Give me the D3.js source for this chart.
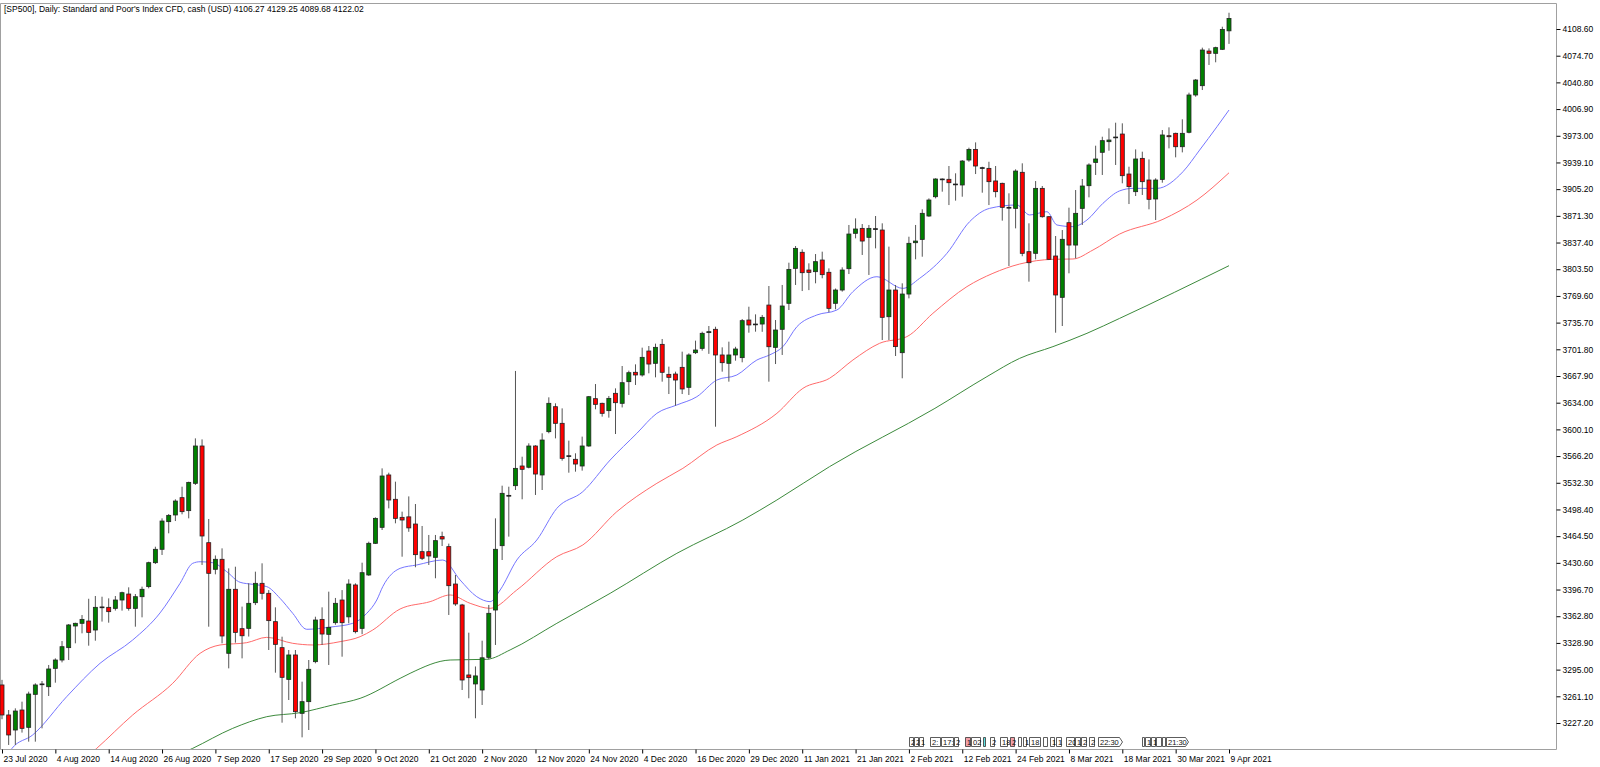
<!DOCTYPE html>
<html>
<head>
<meta charset="utf-8">
<script src="https://cdn.jsdelivr.net/npm/d3@7"></script>
<style>
  html, body { margin: 0; padding: 0; background: #fff; }
  svg { display: block; }
  .axis text { font-family: "Liberation Sans", Arial, sans-serif; font-size: 8.5px; fill: #000; }
  .axis line { stroke: #000; }
</style>
</head>
<body>
<div id="chart"></div>
<script>
var w = 1600,
	h = 767,
	plot_right = 1556,
	plot_top = 3,
	plot_bottom = 749;

var title = "[SP500], Daily:  Standard and Poor's Index CFD, cash (USD)  4106.27 4129.25 4089.68 4122.02";

// daily bars, 23 Jul 2020 .. 9 Apr 2021
var open = [
	3275.5,3237.4,3218.3,3243.7,3221.7,3263.6,3276.3,3273.3,3296.6,3307.2,
	3322.9,3350.4,3353.8,3356.7,3345.3,3374.0,3374.1,3372.8,3383.4,3391.0,
	3372.8,3387.6,3400.4,3430.8,3447.8,3482.9,3491.4,3513.4,3496.9,3531.6,
	3579.0,3456.2,3422.4,3435.1,3315.7,3397.0,3347.0,3347.4,3380.0,3404.6,
	3391.9,3355.9,3322.9,3282.6,3313.6,3239.5,3254.3,3305.1,3358.8,3339.8,
	3354.6,3383.4,3362.0,3402.5,3347.4,3415.2,3455.4,3475.7,3542.2,3511.3,
	3488.4,3489.0,3479.9,3444.8,3444.8,3437.6,3463.9,3451.2,3403.7,3377.1,
	3288.2,3276.8,3269.1,3310.6,3370.7,3452.4,3515.9,3528.6,3553.6,3552.0,
	3579.0,3542.2,3597.2,3628.9,3607.8,3566.3,3562.1,3553.6,3579.0,3639.1,
	3633.2,3623.9,3645.9,3633.2,3660.7,3672.6,3669.2,3699.6,3684.0,3708.1,
	3670.0,3670.4,3678.9,3653.5,3697.5,3703.0,3723.0,3727.2,3694.6,3684.0,
	3694.6,3691.2,3739.0,3733.5,3733.9,3758.0,3704.3,3727.2,3760.2,3804.6,
	3825.0,3802.5,3800.4,3815.2,3799.6,3760.2,3777.1,3804.2,3849.1,3855.4,
	3844.0,3854.6,3853.3,3743.2,3777.1,3697.5,3772.0,3837.2,3841.4,3871.1,
	3895.6,3917.7,3917.7,3911.7,3910.5,3942.2,3955.7,3932.5,3931.6,3915.6,
	3912.6,3882.1,3880.8,3926.6,3825.8,3823.7,3906.2,3870.2,3820.3,3767.8,
	3862.6,3834.2,3880.8,3909.6,3939.2,3952.0,3965.5,3971.0,3975.2,3924.4,
	3902.0,3944.3,3916.8,3892.7,3917.6,3973.1,3976.1,3959.1,3977.4,4024.8,
	4036.6,4080.6,4077.7,4082.8,4106.27
];
var high = [
	3282.0,3243.7,3245.8,3254.3,3267.0,3277.6,3280.5,3300.9,3309.3,3331.3,
	3352.9,3354.6,3364.3,3385.0,3388.5,3387.6,3385.5,3388.5,3394.0,3399.5,
	3391.0,3400.4,3432.1,3451.1,3487.1,3492.6,3511.3,3527.3,3533.7,3588.7,
	3587.4,3486.3,3440.0,3449.0,3423.6,3425.7,3375.0,3404.6,3419.4,3430.0,
	3396.0,3374.1,3336.8,3319.9,3319.9,3279.7,3307.2,3362.2,3374.1,3394.0,
	3386.0,3396.0,3409.7,3404.6,3430.8,3457.5,3488.4,3550.6,3545.1,3533.7,
	3495.6,3515.0,3505.3,3477.4,3466.0,3466.0,3470.2,3455.0,3415.2,3378.5,
	3341.9,3299.0,3331.7,3377.1,3487.1,3528.6,3527.3,3674.3,3565.4,3582.4,
	3580.0,3595.1,3640.8,3633.2,3626.8,3585.8,3569.7,3590.9,3642.5,3657.7,
	3634.0,3642.5,3652.2,3680.6,3674.7,3682.7,3703.9,3706.0,3709.0,3714.9,
	3679.8,3673.4,3698.8,3696.7,3712.8,3724.2,3731.4,3730.5,3704.3,3711.5,
	3705.0,3740.3,3755.9,3746.2,3745.4,3782.2,3739.0,3783.5,3811.8,3833.0,
	3828.7,3811.0,3822.8,3825.8,3804.6,3779.0,3805.9,3859.7,3868.1,3860.9,
	3859.7,3871.1,3861.8,3832.2,3783.5,3785.6,3844.8,3859.7,3879.6,3893.5,
	3919.0,3918.9,3934.6,3925.3,3942.2,3957.9,3964.6,3933.7,3940.0,3934.6,
	3913.4,3899.9,3930.4,3938.0,3861.8,3915.5,3909.2,3871.1,3845.7,3853.3,
	3881.7,3904.1,3918.1,3938.0,3960.4,3971.8,3982.4,3989.6,3988.8,3933.7,
	3955.7,3952.8,3943.0,3919.0,3980.3,3983.7,3976.9,3993.9,4027.7,4045.1,
	4084.9,4084.0,4086.1,4111.5,4129.25
];
var low = [
	3232.0,3199.3,3199.3,3215.0,3203.5,3203.5,3220.4,3261.5,3278.4,3304.2,
	3307.2,3328.4,3341.1,3325.4,3331.7,3356.0,3354.6,3370.0,3369.9,3369.9,
	3349.5,3361.4,3398.2,3429.1,3440.6,3468.1,3483.7,3492.2,3487.1,3529.5,
	3427.9,3349.5,3416.0,3328.4,3296.6,3329.2,3309.3,3337.0,3377.0,3384.0,
	3319.9,3291.1,3227.6,3256.4,3233.1,3209.0,3218.3,3303.0,3326.3,3300.9,
	3352.0,3311.4,3353.8,3341.0,3340.0,3414.0,3454.5,3472.3,3499.8,3480.8,
	3438.4,3470.0,3425.0,3434.2,3427.9,3411.0,3452.0,3364.4,3376.0,3269.1,
	3258.6,3233.2,3250.1,3308.1,3326.3,3434.2,3463.9,3523.1,3511.3,3550.6,
	3516.8,3523.1,3595.1,3588.7,3560.4,3545.1,3546.4,3547.7,3578.0,3625.6,
	3616.3,3615.0,3594.2,3628.0,3643.8,3656.5,3667.1,3671.3,3666.2,3660.7,
	3645.0,3630.2,3645.0,3643.8,3695.8,3700.1,3696.0,3603.5,3673.4,3660.7,
	3687.4,3685.3,3722.9,3724.2,3724.0,3660.7,3683.1,3694.6,3751.7,3783.5,
	3775.8,3777.0,3785.6,3792.0,3748.8,3752.6,3775.0,3797.4,3842.7,3821.6,
	3796.2,3830.0,3713.6,3713.6,3693.3,3665.0,3766.5,3816.1,3819.4,3870.0,
	3893.5,3902.0,3885.0,3890.6,3895.6,3940.0,3924.4,3900.7,3885.0,3894.8,
	3865.2,3807.6,3855.4,3820.0,3787.7,3816.1,3869.0,3815.2,3722.9,3731.4,
	3798.3,3817.3,3859.7,3894.8,3923.2,3923.2,3954.0,3935.9,3912.6,3886.3,
	3896.5,3897.8,3879.6,3866.0,3913.4,3957.0,3945.6,3951.9,3976.1,4022.6,
	4031.1,4062.9,4066.3,4081.9,4089.68
];
var close = [
	3237.4,3212.0,3242.4,3220.4,3264.0,3275.5,3276.8,3295.8,3307.2,3324.1,
	3351.7,3353.8,3358.8,3342.3,3374.1,3374.6,3368.6,3383.4,3392.7,3372.8,
	3387.6,3397.0,3430.8,3447.8,3483.7,3490.9,3509.1,3495.6,3532.8,3579.0,
	3464.7,3417.3,3435.1,3337.7,3397.0,3342.3,3338.0,3379.2,3404.6,3391.9,
	3357.2,3327.1,3285.2,3313.6,3241.6,3254.3,3295.4,3358.0,3340.2,3348.7,
	3379.2,3354.6,3403.7,3343.2,3418.1,3455.4,3487.1,3540.9,3510.4,3487.1,
	3485.0,3475.0,3441.0,3436.4,3439.3,3458.8,3460.9,3401.6,3378.4,3281.8,
	3284.8,3287.0,3310.0,3366.5,3447.8,3518.9,3516.3,3550.6,3549.4,3579.0,
	3543.4,3586.6,3633.2,3607.8,3563.3,3566.6,3556.1,3579.0,3641.6,3631.9,
	3620.5,3639.5,3634.0,3659.4,3672.1,3669.2,3691.6,3683.1,3704.3,3672.6,
	3666.2,3662.8,3651.4,3694.6,3700.9,3722.1,3724.2,3694.6,3684.8,3694.6,
	3702.2,3738.2,3732.7,3733.9,3742.4,3705.1,3726.3,3756.8,3803.3,3830.0,
	3799.1,3799.5,3813.1,3796.6,3753.8,3777.1,3802.5,3848.2,3854.6,3839.3,
	3855.4,3855.0,3742.4,3777.1,3705.2,3772.0,3836.4,3839.3,3874.5,3891.4,
	3918.1,3918.1,3913.4,3911.3,3940.9,3955.7,3934.6,3932.1,3914.7,3902.0,
	3882.1,3881.7,3928.2,3823.7,3811.8,3906.2,3870.2,3816.1,3770.8,3841.5,
	3834.2,3874.5,3909.2,3935.9,3943.5,3966.8,3967.6,3971.4,3922.3,3908.4,
	3943.5,3914.7,3892.3,3916.8,3974.0,3971.8,3959.1,3976.1,4024.8,4043.8,
	4081.9,4077.7,4084.9,4108.1,4122.02
];

// moving averages: [bar, value]
var maBlue = [
	[0,3175],[1.5,3195],[4.6,3212],[9.7,3260.6],[14.7,3303],[19.6,3332.6],[23.7,3367],
	[26.7,3404.6],[28.6,3430],[29.7,3432],[31.6,3430.8],[33.7,3419.4],[35.7,3405.9],
	[37.6,3403.3],[39.7,3400.4],[41.7,3385.5],[43.6,3366.5],[45.7,3346.2],[49.2,3349],
	[52.6,3353.8],[54.7,3366.5],[56.2,3383.4],[57.1,3400.4],[59.7,3423.6],[62.2,3427.9],
	[66.1,3434.2],[68.7,3408.8],[71.2,3387.6],[73.2,3381.3],[74.7,3396.1],[77.2,3434.2],
	[80.2,3459.6],[83.2,3499.8],[87.1,3521],[91.2,3561.2],[95.2,3595.1],[98.2,3620.5],
	[101.2,3631.1],[104.2,3641.6],[107.2,3662.8],[110.2,3669.2],[113.2,3688.2],
	[115.1,3694.6],[117.1,3705.1],[119.2,3730.5],[122.2,3745.4],[125.2,3751.7],
	[127.6,3775],[131.2,3794],[135.1,3779.2],[137.6,3791.9],[141.7,3823.7],[145.1,3863.9],
	[148.1,3880.8],[152.2,3885.1],[154.1,3872.4],[156.7,3876.6],[158.2,3859.7],
	[160.6,3857.6],[162.7,3866],[165.1,3887.2],[167.6,3903],[169.6,3906.2],[173.2,3906.2],
	[177.1,3927.4],[179.6,3954.9],[182.2,3984.5],[184,4005.7]
];
var maRed = [
	[10,3165],[14.2,3195],[19.6,3237.4],[25.6,3277.6],[29.7,3315.7],[32.7,3326.3],
	[36.7,3329.2],[39.7,3336],[43.6,3328.4],[46.6,3326.3],[50.7,3330.5],[53.7,3336.8],
	[55.6,3345.3],[59.7,3372],[64.2,3381.3],[67.2,3389.8],[70.2,3379.2],[73.2,3372.8],
	[77.2,3396.1],[83.2,3438.5],[87.1,3453.3],[92.2,3495.6],[98.2,3531.6],[102.1,3550.6],
	[107.2,3580.3],[110.2,3590.9],[116.2,3620.5],[120.1,3652.2],[124.1,3665],
	[127.6,3688.2],[131.6,3709.4],[135.7,3717.9],[139.6,3747.5],[144.7,3781.4],
	[148.6,3798.3],[152.6,3810.1],[157.6,3816.1],[160.6,3816.5],[163.6,3827.9],
	[167.6,3848.2],[174.1,3866.9],[179.2,3891.4],[184,3926]
];
var maGreen = [
	[22,3170],[28.6,3195],[34.6,3220.4],[39.7,3235.2],[44.7,3240.3],[49.6,3250.1],
	[53.7,3258.5],[59.7,3283.9],[61.2,3290.3],[67.2,3307.2],[72.7,3308.1],[76.2,3320],
	[83.2,3353.8],[91.2,3391.9],[101.2,3442.7],[111.1,3485],[116.2,3510.4],[124.1,3552.8],
	[139.9,3626.8],[147.7,3667.1],[152.6,3690.3],[157.6,3705.2],[162.7,3722.1],
	[167.6,3741.1],[184,3808]
];

// price scale labels
var priceTicks = [4108.6,4074.7,4040.8,4006.9,3973.0,3939.1,3905.2,3871.3,3837.4,
	3803.5,3769.6,3735.7,3701.8,3667.9,3634.0,3600.1,3566.2,3532.3,3498.4,3464.5,
	3430.6,3396.7,3362.8,3328.9,3295.0,3261.1,3227.2];

// time scale labels (every 8th bar)
var dateTickBars = [0,8,16,24,32,40,48,56,64,72,80,88,96,104,112,120,128,136,144,152,160,168,176,184];
var dateTickLabels = ['23 Jul 2020','4 Aug 2020','14 Aug 2020','26 Aug 2020','7 Sep 2020',
	'17 Sep 2020','29 Sep 2020','9 Oct 2020','21 Oct 2020','2 Nov 2020','12 Nov 2020',
	'24 Nov 2020','4 Dec 2020','16 Dec 2020','29 Dec 2020','11 Jan 2021','21 Jan 2021',
	'2 Feb 2021','12 Feb 2021','24 Feb 2021','8 Mar 2021','18 Mar 2021','30 Mar 2021','9 Apr 2021'];

// economic calendar markers: [from bar, to bar, text, kind]
var events = [
	[135.95,136.6,'2',''],[136.7,137.35,'2',''],[137.45,138.1,'1',''],
	[139.2,140.7,'2:',''],[140.8,142.6,'17:2',''],[142.7,143.3,'2',''],
	[144.45,145.2,'1','pink'],[145.3,146.7,'02',''],[147.1,147.4,'','cyan'],
	[148.1,148.8,'2',''],[149.6,150.7,'18',''],[151.1,151.8,'2','pink'],
	[152.4,152.8,'',''],[153.15,153.6,'1',''],[154.05,155.7,'18',''],
	[156.15,156.7,'',''],[157.2,157.8,'1',''],[158.1,158.8,'1',''],
	[159.6,160.8,'20',''],[160.95,161.7,'1',''],[161.85,162.6,'2',''],
	[163.05,163.8,'2',''],[164.4,167.95,'22:30','arrow'],
	[171,171.3,'',''],[171.45,172.2,'1',''],[172.3,172.95,'1',''],
	[173.1,173.8,'',''],[173.95,174.45,'',''],[174.6,177.9,'21:30','arrow']
];

var bars = open.map(function(o, i){
	return { i: i, o: o, h: high[i], l: low[i], c: close[i] };
});

var x = d3.scaleLinear().domain([0, 184]).range([2, 1229]);
var y = d3.scaleLinear().domain([3227.2, 4108.6]).range([723, 29]);

var svg = d3.select('#chart').append('svg')
	.attr('width', w)
	.attr('height', h)
	.attr('viewBox', '0 0 ' + w + ' ' + h);

svg.append('defs').append('clipPath')
	.attr('id', 'plot-clip')
	.append('rect')
		.attr('x', 0)
		.attr('y', plot_top)
		.attr('width', plot_right)
		.attr('height', plot_bottom - plot_top);

//FRAME
svg.append('path')
	.attr('d', 'M0.5,' + (plot_top + 0.5) + 'H' + (plot_right + 0.5) + 'V' + (plot_bottom + 0.5) + 'H0.5Z')
	.attr('fill', 'none')
	.attr('stroke', '#a0a0a0')
	.attr('stroke-width', 1);

var plot = svg.append('g').attr('clip-path', 'url(#plot-clip)');

//MOVING AVERAGES
var maLine = d3.line()
	.x(function(d){ return x(d[0]); })
	.y(function(d){ return y(d[1]); })
	.curve(d3.curveMonotoneX);

[[maGreen, '#3c8a3c'], [maRed, '#ff6a6a'], [maBlue, '#7676ff']].forEach(function(m){
	plot.append('path')
		.datum(m[0])
		.attr('d', maLine)
		.attr('fill', 'none')
		.attr('stroke', m[1])
		.attr('stroke-width', 1);
});

//CANDLES
var candle = plot.selectAll('.candle')
	.data(bars)
	.enter().append('g')
		.attr('class', 'candle');

candle.append('line')
	.attr('x1', function(d){ return x(d.i); })
	.attr('x2', function(d){ return x(d.i); })
	.attr('y1', function(d){ return y(d.h); })
	.attr('y2', function(d){ return y(d.l); })
	.attr('stroke', '#555')
	.attr('stroke-width', 1);

candle.append('rect')
	.attr('x', function(d){ return x(d.i) - 2; })
	.attr('y', function(d){ return y(Math.max(d.o, d.c)); })
	.attr('width', 4)
	.attr('height', function(d){ return Math.max(0.8, Math.abs(y(d.o) - y(d.c))); })
	.attr('fill', function(d){
		if (Math.abs(d.o - d.c) < 1) { return '#000'; }
		return d.c > d.o ? '#008000' : '#ff0000';
	})
	.attr('stroke', '#222')
	.attr('stroke-width', 0.8);

//PRICE AXIS
var yAxis = svg.append('g')
	.attr('class', 'axis')
	.attr('transform', 'translate(' + (plot_right + 0.5) + ',0)')
	.call(d3.axisRight(y).tickValues(priceTicks).tickFormat(d3.format('.2f')).tickSize(4).tickPadding(2));
yAxis.select('.domain').remove();

//TIME AXIS
var xAxis = svg.append('g')
	.attr('class', 'axis')
	.attr('transform', 'translate(0,' + (plot_bottom + 0.5) + ')')
	.call(d3.axisBottom(x).tickValues(dateTickBars)
		.tickFormat(function(d, i){ return dateTickLabels[i]; })
		.tickSize(4).tickPadding(2));
xAxis.select('.domain').remove();
xAxis.selectAll('text')
	.attr('text-anchor', 'start')
	.attr('dx', '1');

//CALENDAR EVENTS
var evTop = 737, evH = 9;
var ev = svg.append('g').attr('class', 'events');
events.forEach(function(e){
	var x0 = Math.round(x(e[0])) + 0.5,
		x1 = Math.round(x(e[1])) + 0.5;
	var fill = e[3] === 'pink' ? '#f4a0a8' : (e[3] === 'cyan' ? '#5fe3e3' : '#fff');
	var shape;
	if (e[3] === 'arrow') {
		shape = 'M' + x0 + ',' + (evTop + 0.5) + 'H' + (x1 - 3) + 'L' + x1 + ',' + (evTop + evH / 2 + 0.5) +
			'L' + (x1 - 3) + ',' + (evTop + evH + 0.5) + 'H' + x0 + 'Z';
	} else {
		shape = 'M' + x0 + ',' + (evTop + 0.5) + 'H' + x1 + 'V' + (evTop + evH + 0.5) + 'H' + x0 + 'Z';
	}
	ev.append('path')
		.attr('d', shape)
		.attr('fill', fill)
		.attr('stroke', '#333')
		.attr('stroke-width', 0.8);
	if (e[2]) {
		ev.append('text')
			.attr('x', x0 + 1.5)
			.attr('y', evTop + evH - 1.5)
			.attr('font-family', 'Liberation Sans, Arial, sans-serif')
			.attr('font-size', '7.5px')
			.attr('fill', '#111')
			.text(e[2]);
	}
});

//TITLE
svg.append('text')
	.attr('x', 4)
	.attr('y', 12)
	.attr('font-family', 'Liberation Sans, Arial, sans-serif')
	.attr('font-size', '8.5px')
	.attr('fill', '#000')
	.text(title);
</script>
</body>
</html>
